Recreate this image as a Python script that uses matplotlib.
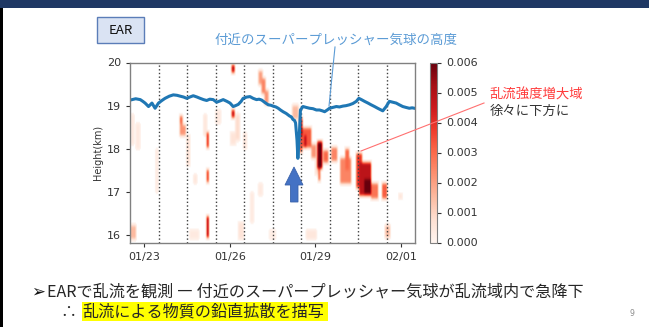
import numpy as np
import matplotlib
matplotlib.use("Agg")
import matplotlib.pyplot as plt
from matplotlib.patches import Rectangle, Polygon

plt.rcParams['font.family'] = ['DejaVu Sans']
JP = ['Noto Sans CJK JP', 'DejaVu Sans']

# ---- data -------------------------------------------------------------
# super-pressure balloon altitude (day of January, km)
balloon_day = [22.51, 22.70, 22.86, 22.95, 23.03, 23.15, 23.27, 23.38, 23.50, 23.62,
               23.73, 23.88, 24.02, 24.15, 24.26, 24.38, 24.49, 24.60, 24.72, 24.85,
               24.96, 25.08, 25.19, 25.30, 25.42, 25.54, 25.66, 25.77, 25.90, 26.01,
               26.12, 26.20, 26.30, 26.40, 26.47, 26.60, 26.71, 26.82, 26.94, 27.03,
               27.12, 27.24, 27.35, 27.44, 27.52, 27.62, 27.70, 27.78, 27.87, 27.98,
               28.10, 28.16, 28.22, 28.27, 28.31, 28.36, 28.39, 28.44, 28.48, 28.57,
               28.68, 28.80, 28.92, 29.04, 29.15, 29.25, 29.33, 29.42, 29.50, 29.62,
               29.74, 29.85, 29.97, 30.08, 30.20, 30.32, 30.44, 30.53, 30.62, 30.73,
               30.85, 30.96, 31.08, 31.19, 31.28, 31.37, 31.49, 31.60, 31.72, 31.84,
               31.95, 32.07, 32.18, 32.30, 32.40, 32.48]
balloon_km = [19.13, 19.16, 19.14, 19.10, 19.06, 18.98, 19.06, 18.94, 19.06, 19.12,
              19.17, 19.22, 19.25, 19.24, 19.22, 19.20, 19.17, 19.20, 19.23, 19.20,
              19.17, 19.14, 19.12, 19.15, 19.14, 19.08, 19.11, 19.14, 19.10, 19.06,
              18.98, 19.00, 19.03, 19.10, 19.17, 19.20, 19.21, 19.17, 19.14, 19.15,
              19.13, 19.07, 19.02, 19.01, 18.99, 18.97, 18.94, 18.90, 18.86, 18.82,
              18.76, 18.74, 18.68, 18.66, 18.60, 18.20, 17.78, 18.30, 18.90, 18.98,
              18.96, 18.94, 18.93, 18.90, 18.90, 18.88, 18.86, 18.90, 18.94, 18.96,
              18.98, 18.97, 18.99, 19.00, 19.02, 19.05, 19.10, 19.17, 19.14, 19.10,
              19.06, 19.02, 18.98, 18.94, 18.91, 18.88, 18.98, 19.10, 19.08, 19.06,
              19.02, 18.98, 18.96, 18.94, 18.95, 18.94]

# EAR turbulence intensity patches: start day, end day, bottom km, top km, value
patch_t0 = [26.07, 26.07, 27.03, 27.12, 27.22, 24.26, 24.26, 24.34, 25.19, 25.19,
            25.19, 22.50, 28.22, 28.45, 28.47, 28.56, 28.62, 28.87, 29.08, 29.10,
            29.30, 29.57, 29.90, 30.05, 30.45, 30.55, 30.73, 30.97, 31.35, 31.45,
            22.55, 22.70, 23.40, 24.50, 25.10, 25.50, 26.20, 26.50, 26.30, 27.00,
            24.60, 27.40, 28.70, 31.95, 24.75, 26.75, 26.05, 29.00]
patch_t1 = [26.18, 26.17, 27.15, 27.25, 27.35, 24.36, 24.33, 24.45, 25.28, 25.28,
            25.28, 22.72, 28.40, 28.56, 28.54, 28.87, 28.70, 29.05, 29.24, 29.20,
            29.47, 29.78, 30.27, 30.20, 30.66, 30.97, 30.97, 31.20, 31.53, 31.65,
            22.65, 22.85, 23.48, 24.60, 25.18, 25.70, 26.35, 26.60, 26.50, 27.15,
            24.90, 27.60, 29.05, 32.05, 24.85, 26.85, 26.20, 29.12]
patch_h0 = [19.78, 18.74, 19.50, 19.30, 19.05, 18.32, 18.60, 18.30, 18.05, 17.23,
            15.93, 15.90, 18.70, 17.93, 18.30, 18.02, 18.05, 17.80, 17.55, 17.25,
            17.70, 17.72, 17.20, 17.50, 17.10, 16.90, 16.95, 16.85, 16.85, 15.95,
            18.10, 18.00, 17.00, 17.60, 18.30, 18.60, 18.20, 18.00, 15.90, 16.90,
            15.90, 15.90, 15.90, 16.85, 17.20, 16.30, 18.10, 17.40]
patch_h1 = [19.95, 18.90, 19.83, 19.65, 19.35, 18.78, 18.78, 18.55, 18.40, 17.50,
            16.42, 16.22, 19.00, 18.74, 18.70, 18.48, 18.30, 18.10, 18.16, 17.55,
            17.97, 18.02, 17.80, 18.00, 17.90, 17.70, 17.30, 17.20, 17.20, 16.20,
            18.80, 18.60, 18.00, 18.30, 18.80, 18.90, 18.80, 18.40, 16.30, 17.20,
            16.10, 16.10, 16.10, 16.95, 17.40, 17.00, 18.40, 17.80]
patch_val = [0.0050, 0.0048, 0.0020, 0.0025, 0.0022, 0.0022, 0.0032, 0.0022, 0.0045, 0.0042,
             0.0056, 0.0015, 0.0015, 0.0035, 0.0055, 0.0033, 0.0050, 0.0022, 0.0060, 0.0032,
             0.0030, 0.0025, 0.0025, 0.0030, 0.0038, 0.0048, 0.0060, 0.0028, 0.0032, 0.0014,
             0.0004, 0.0004, 0.0004, 0.0006, 0.0005, 0.0004, 0.0008, 0.0005, 0.0006, 0.0004,
             0.0004, 0.0003, 0.0005, 0.0006, 0.0005, 0.0004, 0.0006, 0.0008]

tick_days = [23, 26, 29, 32]
tick_labels = ['01/23', '01/26', '01/29', '02/01']
noon_lines = [23.5, 24.5, 25.5, 26.5, 27.5, 28.5, 29.5, 30.5, 31.5]
cbar_ticks = [0.000, 0.001, 0.002, 0.003, 0.004, 0.005, 0.006]

# ---- figure ------------------------------------------------------------
W, H = 649, 327
fig = plt.figure(figsize=(W / 100, H / 100), dpi=100)
fig.patch.set_facecolor('white')

t_lo, t_hi, h_lo, h_hi = 22.5, 32.5, 15.83, 20.0
ax = fig.add_axes([130 / W, 1 - 242.5 / H, 285 / W, 180 / H])

# turbulence grid from the patch table, softened with small binomial kernels
dt, dh = 0.035, 0.035
tc = np.arange(t_lo, t_hi, dt) + dt / 2
hc = np.arange(h_lo, h_hi, dh) + dh / 2
grid = np.zeros((hc.size, tc.size))
for a, b, c, d, v in zip(patch_t0, patch_t1, patch_h0, patch_h1, patch_val):
    m = np.outer((hc >= c) & (hc <= d), (tc >= a) & (tc <= b))
    grid = np.where(m, np.maximum(grid, v), grid)
k_t = np.array([1, 2, 1], float) / 4
k_h = np.array([1, 4, 6, 4, 1], float) / 16
grid = np.apply_along_axis(lambda r: np.convolve(r, k_t, mode='same'), 1, grid)
grid = np.apply_along_axis(lambda r: np.convolve(r, k_h, mode='same'), 0, grid)
grid = np.ma.masked_less(grid, 0.00004)

cmap = plt.get_cmap('Reds').copy()
cmap.set_bad('white')
im = ax.imshow(grid, origin='lower', extent=[t_lo, t_hi, h_lo, h_hi], aspect='auto',
               cmap=cmap, vmin=0, vmax=0.006, interpolation='bilinear')

for d in noon_lines:
    ax.axvline(d, color='0.25', ls=':', lw=1.0)

ax.plot(balloon_day, balloon_km, color='#1f77b4', lw=2.2)

ax.set_xlim(t_lo, t_hi)
ax.set_ylim(h_lo, h_hi)
ax.set_xticks(tick_days)
ax.set_xticklabels(tick_labels)
ax.set_yticks([16, 17, 18, 19, 20])
ax.set_ylabel('Height(km)', fontsize=7, color='#333333', labelpad=3)
ax.tick_params(labelsize=8, colors='#333333', length=3, width=0.8)
for s in ax.spines.values():
    s.set_color('0.5')
    s.set_linewidth(1.0)

cax = fig.add_axes([430 / W, 1 - 242.5 / H, 7 / W, 180 / H])
cb = fig.colorbar(im, cax=cax, ticks=cbar_ticks)
cb.ax.set_yticklabels(['%.3f' % v for v in cbar_ticks])
cb.ax.tick_params(labelsize=8, colors='#333333', length=3, width=0.8)
cb.outline.set_edgecolor('0.5')
cb.outline.set_linewidth(0.8)

# ---- slide overlay -----------------------------------------------------
ov = fig.add_axes([0, 0, 1, 1], zorder=10)
ov.set_xlim(0, W)
ov.set_ylim(H, 0)
ov.axis('off')

ov.add_patch(Rectangle((0, 0), W, 8, color='#1F3864', lw=0))
ov.add_patch(Rectangle((0, 8), 3, H - 8, color='black', lw=0))

ov.add_patch(Rectangle((97, 17), 47, 26, facecolor='#DAE3F3', edgecolor='#5B7DB8', lw=1))
ov.text(120.5, 30, 'EAR', fontsize=9.5, ha='center', va='center', color='#111111', family=JP)

ov.text(336, 40, '付近のスーパープレッシャー気球の高度', fontsize=9.7, ha='center', va='center',
        color='#5B9BD5', family=JP)
ov.plot([335, 329], [47, 106], color='#5B9BD5', lw=0.8)

ov.text(490, 95, '乱流強度増大域', fontsize=9.6, ha='left', va='center', color='#FF3B3B', family=JP)
ov.text(490, 111, '徐々に下方に', fontsize=9.6, ha='left', va='center', color='#333333', family=JP)
ov.plot([484, 361], [103, 151], color='#FF7070', lw=0.8)

ov.add_patch(Polygon([[285, 185], [294, 167], [303, 185], [298, 185], [298, 202],
                      [290.5, 202], [290.5, 185]], closed=True, facecolor='#4472C4',
                     edgecolor='#3A62AA', lw=0.6))

ov.text(31, 292, '➢', fontsize=12, ha='left', va='center', color='#111111', family=JP)
ov.text(47, 292, 'EARで乱流を観測 ― 付近のスーパープレッシャー気球が乱流域内で急降下',
        fontsize=11.6, ha='left', va='center', color='#262626', family=JP)
ov.text(60, 312, '∴', fontsize=11.5, ha='left', va='center', color='#262626', family=JP)
ov.add_patch(Rectangle((82, 302), 246, 19, color='#FFFF00', lw=0))
ov.text(82, 312, '乱流による物質の鉛直拡散を描写', fontsize=11.6, ha='left', va='center',
        color='#262626', family=JP)
ov.text(632, 314, '9', fontsize=5.5, ha='center', va='center', color='#8C8C8C')

fig.savefig('out.png', dpi=100)
